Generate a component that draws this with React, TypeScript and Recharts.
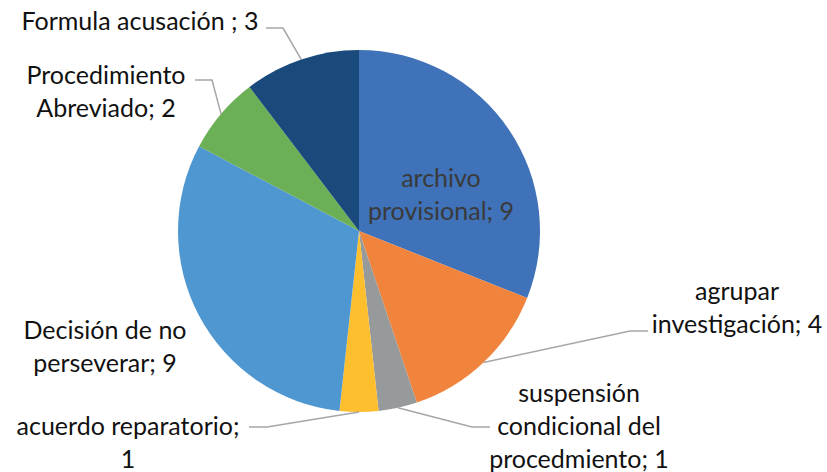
import { PieChart, Pie, Cell } from 'recharts'

const categories = [
  'archivo provisional',
  'agrupar investigación',
  'suspensión condicional del procedmiento',
  'acuerdo reparatorio',
  'Decisión de no perseverar',
  'Procedimiento Abreviado',
  'Formula acusación ',
]
const values = [9, 4, 1, 1, 9, 2, 3]
const labelLines = [
  ['archivo', 'provisional; 9'],
  ['agrupar', 'investigación; 4'],
  ['suspensión', 'condicional del', 'procedmiento; 1'],
  ['acuerdo reparatorio;', '1'],
  ['Decisión de no', 'perseverar; 9'],
  ['Procedimiento', 'Abreviado; 2'],
  ['Formula acusación ; 3'],
]

const colors = ['#3F72B8', '#F0843C', '#979A9A', '#FDBF2D', '#4F97D1', '#6BAF56', '#1A4A7C']

// label block centre (relative to pie centre) and optional leader elbow/end
const labelLayout: { dx: number; dy: number; inside?: boolean; leader?: [number, number, number, number] }[] = [
  { dx: 82, dy: -38, inside: true },
  { dx: 378, dy: 75, leader: [271, 100, 289, 100] },
  { dx: 220, dy: 194, leader: [113, 196, 131, 196] },
  { dx: -231, dy: 210, leader: [-92, 196, -110, 196] },
  { dx: -254, dy: 114 },
  { dx: -253, dy: -141, leader: [-147, -151, -164, -151] },
  { dx: -219, dy: -211, leader: [-76, -203, -93, -203] },
]

const data = categories.map((name, i) => ({ name, value: values[i] }))

const RADIAN = Math.PI / 180
const LINE_H = 33

const renderLabel = (props: any) => {
  const { cx, cy, midAngle, outerRadius, index } = props
  const lay = labelLayout[index]
  const lines = labelLines[index]
  const x = cx + lay.dx
  const top = cy + lay.dy - ((lines.length - 1) * LINE_H) / 2
  let leader = null
  if (lay.leader) {
    const ex = cx + outerRadius * Math.cos(-midAngle * RADIAN)
    const ey = cy + outerRadius * Math.sin(-midAngle * RADIAN)
    const [bx, by, tx, ty] = lay.leader
    leader = (
      <polyline
        points={`${ex},${ey} ${cx + bx},${cy + by} ${cx + tx},${cy + ty}`}
        fill="none"
        stroke="#A6A6A6"
        strokeWidth={1.5}
      />
    )
  }
  return (
    <g key={`lbl-${index}`}>
      {leader}
      <text
        x={x}
        y={top}
        textAnchor="middle"
        dominantBaseline="central"
        fill={lay.inside ? '#3A3A3A' : '#111'}
        fontSize={25}
        fontFamily="Lato, 'Open Sans', sans-serif"
      >
        {lines.map((ln, j) => (
          <tspan key={j} x={x} dy={j === 0 ? 0 : LINE_H}>
            {ln}
          </tspan>
        ))}
      </text>
    </g>
  )
}

export default function App() {
  return (
    <div style={{ position: 'absolute', left: 0, top: 0, background: '#fff' }}>
      <PieChart width={827} height={472} margin={{ top: 0, right: 0, bottom: 0, left: 0 }}>
        <Pie
          data={data}
          dataKey="value"
          nameKey="name"
          cx={359}
          cy={231}
          outerRadius={181}
          startAngle={90}
          endAngle={-270}
          stroke="none"
          label={renderLabel}
          labelLine={false}
          isAnimationActive={false}
        >
          {data.map((entry, index) => (
            <Cell key={`cell-${index}`} fill={colors[index]} />
          ))}
        </Pie>
      </PieChart>
    </div>
  )
}
